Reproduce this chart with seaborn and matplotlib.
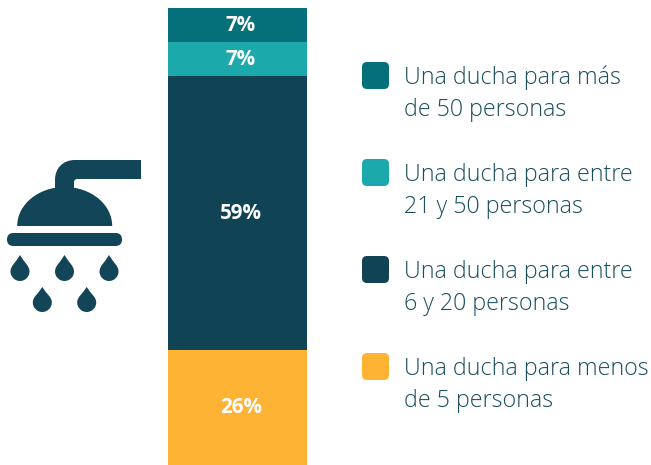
import matplotlib
matplotlib.use("Agg")
import matplotlib.pyplot as plt
import seaborn as sns
from matplotlib.patches import FancyBboxPatch, PathPatch
from matplotlib.path import Path

# segment heights (top to bottom)
categories = ["Una ducha para más\nde 50 personas",
              "Una ducha para entre\n21 y 50 personas",
              "Una ducha para entre\n6 y 20 personas",
              "Una ducha para menos\nde 5 personas"]
heights = [7.45, 7.45, 59.95, 25.15]
labels = ["7%", "7%", "59%", "26%"]
colors = ["#06707A", "#1BA9AB", "#104455", "#FFB335"]
TEXT = "#1A4F60"
ICON = "#134558"
FONT = "Open Sans"

sns.set_theme(style="white")
plt.rcParams["font.family"] = [FONT, "DejaVu Sans"]
W, H = 651, 465
fig = plt.figure(figsize=(W / 100, H / 100), dpi=100)

ax = fig.add_axes([168 / W, 0, 139 / W, 457 / H])
bottom = sum(heights)
for h, lab, col in zip(heights, labels, colors):
    bottom -= h
    sns.barplot(x=["a"], y=[h], bottom=bottom, width=1, color=col, saturation=1, ax=ax, linewidth=0)
    ax.text(0.025, bottom + h / 2, lab, ha="center", va="center", color="white",
            fontsize=14.8, fontweight="bold")
ax.set_xlim(-0.5, 0.5)
ax.set_ylim(0, sum(heights))
ax.axis("off")

ov = fig.add_axes([0, 0, 1, 1], zorder=5)
ov.set_xlim(0, W)
ov.set_ylim(H, 0)
ov.axis("off")
ov.patch.set_alpha(0)

for i, (cat, col) in enumerate(zip(categories, colors)):
    top = 62 + i * 97
    ov.add_patch(FancyBboxPatch((366, top + 4), 19, 19, boxstyle="round,pad=4,rounding_size=5",
                                fc=col, ec="none"))
    l1, l2 = cat.split("\n")
    ov.text(403.5, top + 16, l1, fontsize=16.75, color=TEXT, va="center", ha="left", fontweight="light")
    ov.text(403.5, top + 47.5, l2, fontsize=16.75, color=TEXT, va="center", ha="left", fontweight="light")

# shower icon
M, L, C, Z = Path.MOVETO, Path.LINETO, Path.CURVE4, Path.CLOSEPOLY
pipe = Path([(141, 160), (75, 160), (63, 160), (55, 168), (55, 180), (55, 200), (74, 200), (74, 183),
             (74, 180), (75, 179), (78, 179), (141, 179), (141, 160)],
            [M, L, C, C, C, L, L, L, C, C, C, L, Z])
ov.add_patch(PathPatch(pipe, fc=ICON, ec="none"))
k = 0.5523
cx, by, rx, ry = 64.7, 226, 47.5, 39
dome = Path([(cx - rx, by), (cx - rx, by - k * ry), (cx - k * rx, by - ry), (cx, by - ry),
             (cx + k * rx, by - ry), (cx + rx, by - k * ry), (cx + rx, by), (cx - rx, by)],
            [M, C, C, C, C, C, C, Z])
ov.add_patch(PathPatch(dome, fc=ICON, ec="none"))
ov.add_patch(FancyBboxPatch((13.5, 239.5), 102, 0, boxstyle="round,pad=6.5,rounding_size=6.5",
                            fc=ICON, ec="none"))


def drop(x, top, bot, r=9.5):
    cy = bot - r
    a, b = 0.45 * r, top + 0.45 * (cy - top)
    c = cy - 0.6 * r
    return Path([(x, top), (x + a, b), (x + r, c), (x + r, cy),
                 (x + r, cy + k * r), (x + k * r, bot), (x, bot),
                 (x - k * r, bot), (x - r, cy + k * r), (x - r, cy),
                 (x - r, c), (x - a, b), (x, top), (x, top)],
                [M, C, C, C, C, C, C, C, C, C, C, C, C, Z])


for x in (20, 64.5, 109):
    ov.add_patch(PathPatch(drop(x, 255, 281), fc=ICON, ec="none"))
for x in (42.3, 86.7):
    ov.add_patch(PathPatch(drop(x, 287, 312), fc=ICON, ec="none"))

fig.savefig("out.png", dpi=100)
